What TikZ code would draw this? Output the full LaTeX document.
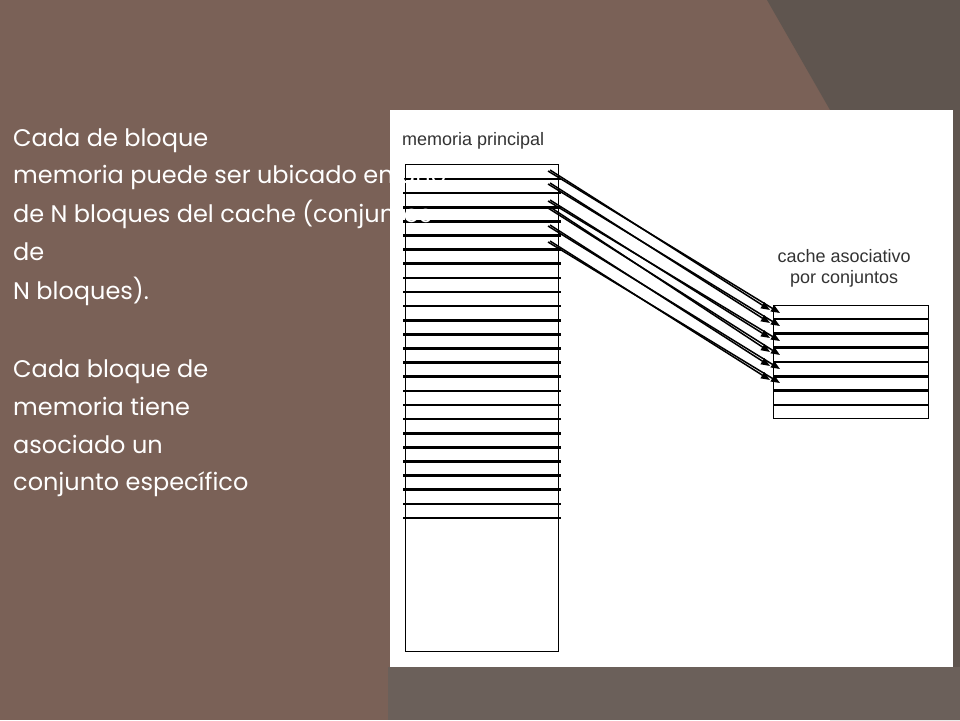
\documentclass[tikz,border=0pt]{standalone}
\usepackage{fontspec}
\setmainfont{Poppins}
\newfontfamily\figfont{Liberation Sans}
\usepackage{xcolor}
\usepackage{tikz}
\usetikzlibrary{positioning}
\usetikzlibrary{calc,arrows.meta}

\definecolor{slidebrown}{HTML}{7A6157}
\definecolor{slidedark}{HTML}{5F554F}
\definecolor{slidegrey}{HTML}{6B605A}
\definecolor{labelgrey}{HTML}{333333}

\begin{document}
\begin{tikzpicture}[x=1pt, y=-1pt,
    blockline/.style={line width=2.6pt},
    maparrow/.style={-{Triangle[length=9pt,width=7pt]}, line width=1.5pt},
    figlabel/.style={font=\figfont\fontsize{18}{20.5}\selectfont, text=labelgrey, align=center, inner sep=0},
    slidetext/.style={font=\fontsize{24}{28}\selectfont, text=white, anchor=base west, inner sep=0}]
  \useasboundingbox (0,0) rectangle (960,720);

  % slide background
  \fill[slidebrown] (0,0) rectangle (960,720);
  \fill[slidedark] (767,0) -- (960,0) -- (960,720) -- (830,720) -- (830,110) -- cycle;
  \fill[slidegrey] (388,667) rectangle (960,720);
  \fill[white] (390,110) rectangle (953,667);

  % main memory
  \node(mem) [draw, line width=1.3pt, anchor=north west, inner sep=0,
              minimum width=153pt, minimum height=487pt] at (405,164) {};
  \node(memlabel) [figlabel, anchor=base west] at (402,145) {memoria principal};
  \foreach \i in {0,...,24} {
    \draw[blockline] (403,{179+14.125*\i}) -- (561,{179+14.125*\i});
  }

  % cache
  \node(cache) [draw, line width=1.3pt, anchor=north west, inner sep=0,
                minimum width=155pt, minimum height=113pt] at (773,305) {};
  \node(cachelabel) [figlabel, anchor=south, above=18pt of cache, xshift=-7pt]
        {cache asociativo\\por conjuntos};
  \foreach \i in {0,...,6} {
    \draw[blockline] (773,{319+14.33*\i}) -- (928,{319+14.33*\i});
  }

  % block -> set mapping
  \foreach \k/\s/\e in {1/170/310, 2/183/323, 3/200/338, 4/207/352, 5/225/366, 6/241/380} {
    \coordinate (src\k) at (550,\s);
    \coordinate (dst\k) at (770,\e);
    \draw[maparrow] (src\k) -- (dst\k);
    \draw[maparrow] ([shift={(-2,1)}]src\k) -- ([shift={(10,3)}]dst\k);
  }

  % slide text
  \foreach \y/\txt [count=\n] in {146/Cada de bloque,
      183/memoria puede ser ubicado en uno,
      222/de N bloques del cache (conjuntos,
      260/de,
      299/N bloques).,
      377/Cada bloque de,
      415/memoria tiene,
      453/asociado un,
      490/conjunto específico} {
    \node(line\n) [slidetext] at (13,\y) {\txt};
  }
\end{tikzpicture}
\end{document}
